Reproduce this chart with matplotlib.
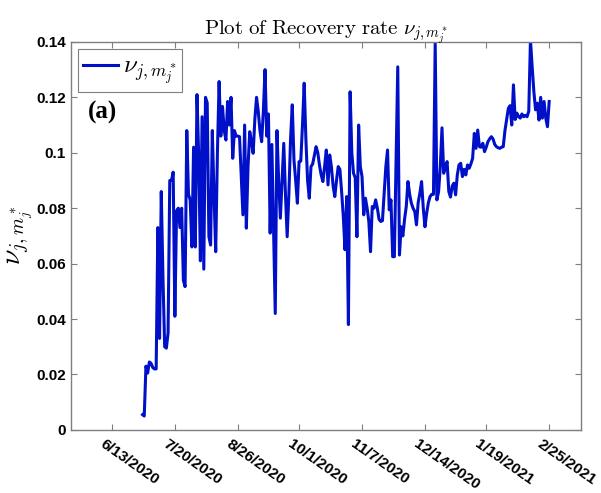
import matplotlib
matplotlib.use('Agg')
import matplotlib.pyplot as plt
import matplotlib.dates as mdates
import datetime as dt
from matplotlib.transforms import ScaledTranslation

plt.rcParams['mathtext.fontset'] = 'cm'
plt.rcParams['font.family'] = ['Liberation Sans', 'DejaVu Sans']

# ---- data ----
start_date = dt.date(2020, 7, 1)
recovery_rate = [
    0.0055, 0.005, 0.023, 0.0205, 0.0245, 0.024, 0.0225, 0.022, 0.022, 0.073,
    0.033, 0.086, 0.055, 0.030, 0.0295, 0.035, 0.090, 0.090, 0.093, 0.041,
    0.079, 0.080, 0.073, 0.080, 0.054, 0.0517, 0.108, 0.085, 0.083, 0.066,
    0.102, 0.066, 0.121, 0.099, 0.061, 0.113, 0.058, 0.120, 0.118, 0.0697,
    0.0667, 0.108, 0.085, 0.0643, 0.100, 0.1257, 0.106, 0.1167, 0.108, 0.1046,
    0.1185, 0.110, 0.120, 0.098, 0.108, 0.106, 0.106, 0.1058, 0.092, 0.0776,
    0.110, 0.0728, 0.095, 0.1076, 0.104, 0.0998, 0.112, 0.120, 0.115, 0.108,
    0.104, 0.115, 0.130, 0.106, 0.114, 0.071, 0.103, 0.073, 0.042, 0.108,
    0.090, 0.0764, 0.090, 0.1034, 0.085, 0.0697, 0.085, 0.105, 0.1173, 0.0974,
    0.090, 0.0818, 0.0968, 0.097, 0.110, 0.1251, 0.105, 0.090, 0.0836, 0.095,
    0.096, 0.0992, 0.1022, 0.100, 0.0955, 0.092, 0.0896, 0.095, 0.101, 0.0884,
    0.0992, 0.095, 0.088, 0.0842, 0.090, 0.095, 0.094, 0.086, 0.077, 0.065,
    0.0842, 0.038, 0.122, 0.100, 0.0926, 0.091, 0.0697, 0.110, 0.095, 0.0914,
    0.0776, 0.0836, 0.080, 0.0752, 0.0643, 0.0806, 0.080, 0.083, 0.080, 0.076,
    0.0752, 0.0755, 0.085, 0.095, 0.101, 0.0794, 0.083, 0.0625, 0.0625, 0.097,
    0.131, 0.0631, 0.0733, 0.070, 0.076, 0.0806, 0.0896, 0.085, 0.0818, 0.080,
    0.0788, 0.074, 0.082, 0.0854, 0.0896, 0.080, 0.0733, 0.0782, 0.082, 0.0842,
    0.085, 0.085, 0.1395, 0.083, 0.086, 0.095, 0.109, 0.0926, 0.095, 0.0968,
    0.086, 0.084, 0.088, 0.089, 0.0848, 0.092, 0.0956, 0.0962, 0.0914, 0.094,
    0.092, 0.0956, 0.0944, 0.096, 0.098, 0.107, 0.1016, 0.1082, 0.1022, 0.102,
    0.1034, 0.1004, 0.102, 0.104, 0.105, 0.1058, 0.105, 0.103, 0.1022, 0.1018,
    0.1016, 0.102, 0.1022, 0.108, 0.112, 0.116, 0.117, 0.110, 0.1245, 0.112,
    0.1143, 0.113, 0.1125, 0.114, 0.113, 0.1135, 0.113, 0.115, 0.1407, 0.131,
    0.122, 0.1155, 0.1179, 0.1118, 0.120, 0.1125, 0.1185, 0.1125, 0.1094, 0.1185,
]
dates = [start_date + dt.timedelta(days=i) for i in range(len(recovery_rate))]

xtick_labels = ['6/13/2020', '7/20/2020', '8/26/2020', '10/1/2020',
                '11/7/2020', '12/14/2020', '1/19/2021', '2/25/2021']
ytick_values = [0, 0.02, 0.04, 0.06, 0.08, 0.1, 0.12, 0.14]
ytick_labels = ['0', '0.02', '0.04', '0.06', '0.08', '0.1', '0.12', '0.14']

# ---- figure ----
fig = plt.figure(figsize=(6.01, 4.93), dpi=100)
ax = fig.add_axes([0.118, 0.128, 0.849, 0.787])

line_color = '#0010C8'
ax.plot(dates, recovery_rate, color=line_color, lw=2.2,
        label=r'$\nu_{j,m_j^*}$')

xt = [dt.datetime.strptime(s, '%m/%d/%Y').date() for s in xtick_labels]
ax.set_xticks(xt)
ax.set_xticklabels(xtick_labels)
left = mdates.date2num(xt[0]) - 24.1
right = mdates.date2num(xt[-1]) + 18.8
ax.set_xlim(left, right)

ax.set_ylim(0, 0.14)
ax.set_yticks(ytick_values)
ax.set_yticklabels(ytick_labels)

spine_c = '#7f7f7f'
for s in ax.spines.values():
    s.set_color(spine_c)
    s.set_linewidth(1.0)
ax.tick_params(direction='in', length=4, width=0.8, color=spine_c,
               top=True, right=True, labelsize=11)
for lab in ax.get_xticklabels() + ax.get_yticklabels():
    lab.set_fontweight('bold')

offset = ScaledTranslation(-6/100, -2/100, fig.dpi_scale_trans)
for lab in ax.get_xticklabels():
    lab.set_rotation(-35)
    lab.set_ha('left')
    lab.set_va('top')
    lab.set_rotation_mode('anchor')
    lab.set_transform(lab.get_transform() + offset)

ax.set_title(r'$\mathrm{Plot\ of\ Recovery\ rate}\ \nu_{j,m_j^*}$',
             fontsize=15, pad=5)
ax.set_ylabel(r'$\nu_{j,m_j^*}$', fontsize=20, labelpad=0)

leg = ax.legend(loc='upper left', fontsize=18, handlelength=1.4,
                borderpad=0.2, borderaxespad=0.3, fancybox=False,
                handletextpad=0.2, framealpha=1)
leg.get_frame().set_edgecolor(spine_c)
leg.get_frame().set_linewidth(0.8)

ax.text(0.033, 0.817, '(a)', transform=ax.transAxes, fontsize=18,
        fontweight='bold', family=['Liberation Serif'], va='center', ha='left')

fig.savefig('out.png', dpi=100)
